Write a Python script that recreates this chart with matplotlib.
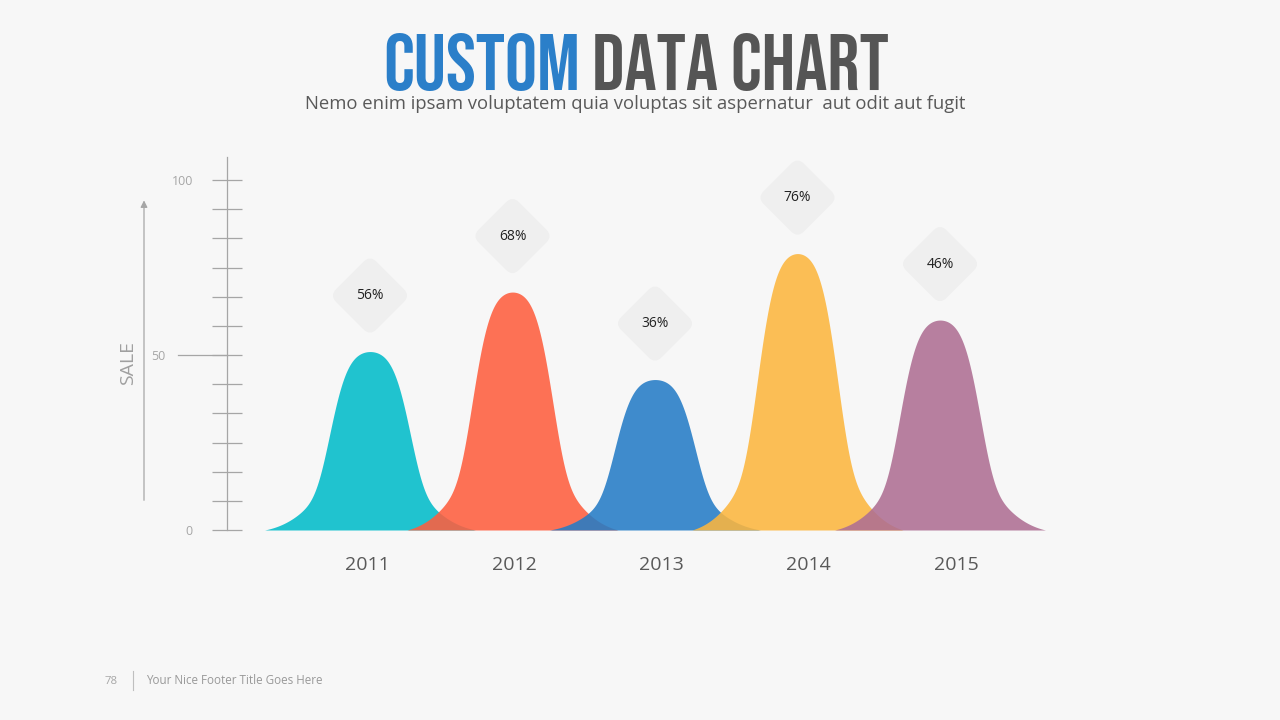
import matplotlib
matplotlib.use("Agg")
import matplotlib.pyplot as plt
import numpy as np
from matplotlib import font_manager
from matplotlib.colors import to_rgb
from matplotlib.patches import FancyBboxPatch
from matplotlib.lines import Line2D
from matplotlib.transforms import Affine2D, ScaledTranslation

years = ["2011", "2012", "2013", "2014", "2015"]
heights = [51, 68, 43, 79, 60]
badges = ["56%", "68%", "36%", "76%", "46%"]
colors = ["#1FC3CF", "#FD7055", "#3E8BCC", "#FBBE54", "#B77F9F"]
y_ticks = [0, 50, 100]
minor_ticks = np.linspace(0, 100, 13)

bg = "#F7F7F7"
grey = "#A6A6A6"
alpha = 0.88
plt.rcParams["font.family"] = ["Open Sans", "DejaVu Sans"]

fig = plt.figure(figsize=(12.8, 7.2), dpi=100, facecolor=bg)
ax = fig.add_axes([227 / 1280, 190 / 720, 833 / 1280, 373 / 720])
ax.set_facecolor("none")
ax.set_xlim(-1.0035, 4.842)
ax.set_ylim(0, 106.6)


def bell(t, s1=0.305, s2=0.415, w=0.74):
    def raw(x):
        return 0.55 * np.exp(-(x / s1) ** 4) + 0.45 * np.exp(-(x / s2) ** 2)
    return np.clip((raw(t) - raw(w)) / (1 - raw(w)), 0, None)


def precomp(c):
    # colour that gives c once drawn with alpha over the background
    c, b = np.array(to_rgb(c)), np.array(to_rgb(bg))
    return tuple(np.clip((c - (1 - alpha) * b) / alpha, 0, 1))


t = np.linspace(-0.74, 0.74, 500)
for i, (h, c) in enumerate(zip(heights, colors)):
    ax.fill_between(i + t, 0, h * bell(t), color=precomp(c), alpha=alpha, lw=0, zorder=2 + i)

# diamond badges above each peak
for i, (h, lab) in enumerate(zip(heights, badges)):
    tr = Affine2D().rotate_deg(45) + ScaledTranslation(i, h + 16, ax.transData)
    d = FancyBboxPatch((-28.5, -28.5), 57, 57, boxstyle="round,pad=0,rounding_size=9",
                       transform=tr, fc="#EFEFEF", ec="none", clip_on=False, zorder=10)
    ax.add_artist(d)
    ax.text(i, h + 16, lab, ha="center", va="center", size=10, color="#222222", zorder=11)

# y axis
for s in ["top", "right", "bottom"]:
    ax.spines[s].set_visible(False)
ax.spines["left"].set_color(grey)
ax.spines["left"].set_linewidth(0.9)
ax.set_yticks(y_ticks)
ax.set_yticklabels([str(v) for v in y_ticks])
ax.set_yticks(minor_ticks, minor=True)
ax.tick_params(axis="y", which="both", direction="inout", length=21.6, width=0.9, color=grey)
ax.tick_params(axis="y", which="major", labelsize=9, labelcolor=grey, pad=13.7)
ax.yaxis.get_major_ticks()[1].set_pad(33.8)
ax.plot([-49 / 833, 0], [y_ticks[1]] * 2, transform=ax.get_yaxis_transform(),
        color=grey, lw=0.9, clip_on=False)

# x axis
ax.set_xticks(np.arange(len(years)) * 1.033 - 0.02)
ax.set_xticklabels(years)
ax.tick_params(axis="x", length=0, pad=18.7, labelsize=14, labelcolor="#595959")

# SALE arrow
ax.annotate("", xy=(-83 / 833, 95), xytext=(-83 / 833, 7.7),
            xycoords=ax.get_yaxis_transform(), textcoords=ax.get_yaxis_transform(),
            arrowprops=dict(arrowstyle="-|>", color=grey, lw=0.9, mutation_scale=10))
ax.text(-99 / 833, 47.7, "SALE", transform=ax.get_yaxis_transform(), rotation=90,
        ha="center", va="center", size=14, color="#A0A0A0")

# title: narrowest bold face available
names = {f.name for f in font_manager.fontManager.ttflist}
title_family = "DejaVu Sans"
for cand in ["Bebas Neue", "Roboto Condensed", "Liberation Sans Narrow", "Open Sans Condensed"]:
    if cand in names:
        title_family = cand
        break
tkw = dict(va="baseline", weight="bold", family=title_family, stretch="condensed")
t1 = fig.text(0, 1 - 90 / 720, "CUSTOM", color="#2B7FC9", size=60, **tkw)
t2 = fig.text(0, 1 - 90 / 720, "DATA CHART", color="#555555", size=60, **tkw)
r = fig.canvas.get_renderer()
w1, w2 = t1.get_window_extent(r).width, t2.get_window_extent(r).width
k = min(1.0, 494 / (w1 + w2))
for tt in (t1, t2):
    tt.set_fontsize(60 * k)
w1, w2 = w1 * k, w2 * k
x0 = 636 - (w1 + w2 + 12) / 2
t1.set_x(x0 / 1280)
t2.set_x((x0 + w1 + 12) / 1280)

fig.text(635 / 1280, 1 - 104 / 720,
         "Nemo enim ipsam voluptatem quia voluptas sit aspernatur  aut odit aut fugit",
         ha="center", va="center", size=13.3, color="#595959")

# footer
fig.text(118 / 1280, 1 - 681 / 720, "78", ha="right", va="center", size=8.2, color=grey)
fig.add_artist(Line2D([133 / 1280] * 2, [1 - 671 / 720, 1 - 690 / 720],
                      transform=fig.transFigure, color="#BFBFBF", lw=0.8))
fig.text(146 / 1280, 1 - 681 / 720, "Your Nice Footer Title Goes Here", ha="left",
         va="center", size=8.4, color="#999999")

fig.savefig("out.png", dpi=100, facecolor=bg)
